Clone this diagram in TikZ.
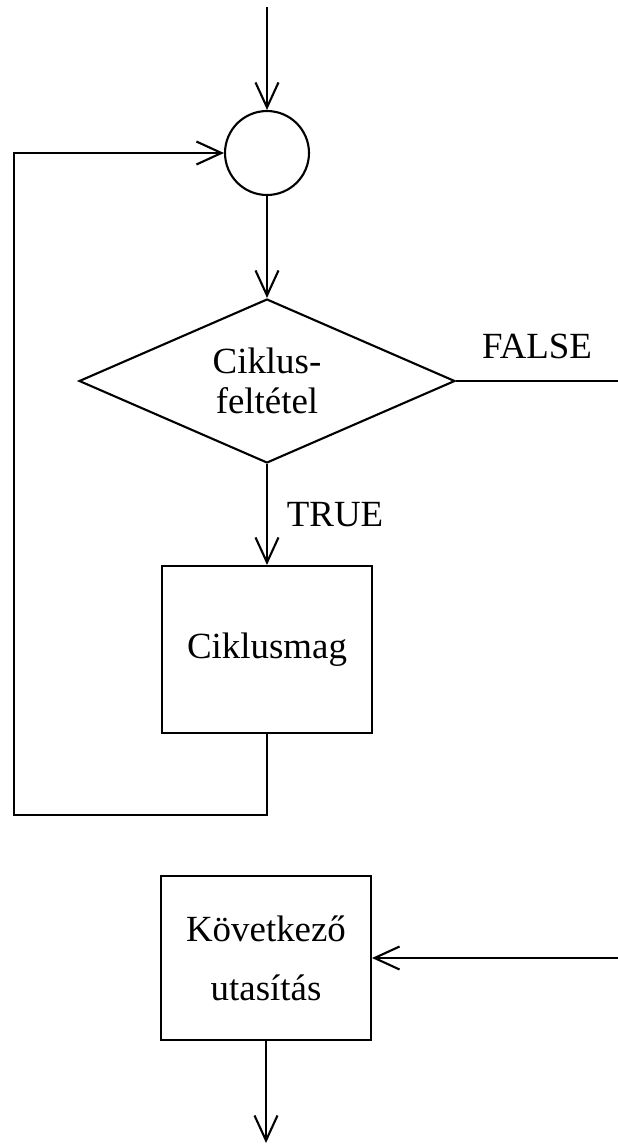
\documentclass[tikz,border=0pt]{standalone}
\usepackage{fontspec}
\setmainfont{Liberation Serif}
\usetikzlibrary{arrows.meta, shapes.geometric, positioning}

\tikzset{
    block/.style={draw, minimum width=4.2cm, inner sep=0pt, align=center},
    joint/.style={draw, circle, minimum size=1.68cm, inner sep=0pt},
    test/.style={draw, diamond, aspect=2.3, minimum width=7.52cm, minimum height=3.28cm, inner sep=0pt, align=center}
}

\begin{document}
\begin{tikzpicture}[>={Straight Barb[length=5mm,width=4.6mm]}, x=0.02cm, y=-0.02cm, line width=1.2pt, font=\fontsize{21}{22.8}\selectfont]
\useasboundingbox (0,0) rectangle (618,1144);
\coordinate (start) at (267,7);
\node[joint] (join) at (267,153) {};
\node[test] (cond) at (267,381) {Ciklus-\\feltétel};
\node[block, minimum height=3.34cm] (body) at (267,649.5) {Ciklusmag};
\node[block, minimum height=3.28cm] (next) at (266,958) {Következő\\[10.7pt]utasítás};
\coordinate (exit) at (618,381);
\coordinate (back) at (618,958);
\coordinate (loop) at (14,815);
\coordinate (end) at (266,1143);

\draw[->](start)--(join);
\draw[->](join)--(cond);
\draw[->](cond)--node[right=0.26cm]{TRUE}(body);
\draw[->](body.south)|-(loop)|-(join.west);
\draw(cond.east)--node[above=0.3cm]{FALSE}(exit);
\draw[->](back)--(next);
\draw[->](next)--(end);

\end{tikzpicture}
\end{document}
